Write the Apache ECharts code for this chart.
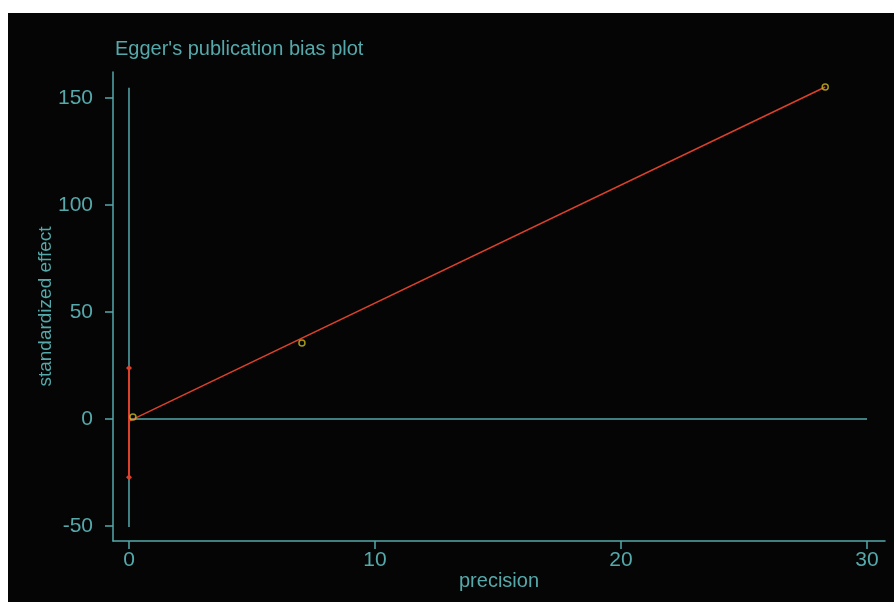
<!DOCTYPE html>
<html>
<head>
<meta charset="utf-8">
<script src="https://cdn.jsdelivr.net/npm/echarts@6/dist/echarts.min.js"></script>
<style>
html,body{margin:0;padding:0;background:#ffffff;}
#chart{width:894px;height:602px;}
</style>
</head>
<body>
<div id="chart"></div>
<script>
// Data
const precision = [0.16, 7.03, 28.3];
const stdEffect = [0.9, 35.5, 155.1];
const regX = [0, 28.3];
const regY = [-1.0, 155.1];
const ciX = [0, 0];
const ciY = [23.8, -27.2];
const refVX = [0, 0];
const refVY = [-50.5, 154.8];
const refHX = [0, 30];
const refHY = [0, 0];
const xTicks = [0, 10, 20, 30];
const yTicks = [-50, 0, 50, 100, 150];

const teal = '#55a9ab';
const red = '#dc412b';
const yellow = '#c8bb1e';
const fontFam = '"Liberation Sans Narrow", "Liberation Sans", Arial, sans-serif';

const pairs = (xs, ys) => xs.map((x, i) => [x, ys[i]]);

const chart = echarts.init(document.getElementById('chart'));
chart.setOption({
  backgroundColor: '#ffffff',
  animation: false,
  graphic: [{
    type: 'rect', z: -10, silent: true,
    shape: { x: 8, y: 13, width: 886, height: 589 },
    style: { fill: '#050505' }
  }],
  title: {
    text: "Egger's publication bias plot",
    left: 110, top: 34,
    textStyle: { color: teal, fontSize: 20, fontWeight: 'normal', fontFamily: fontFam }
  },
  grid: { left: 113, right: 9, top: 72, bottom: 61 },
  xAxis: {
    type: 'value', min: -0.65, max: 30.73,
    name: 'precision', nameLocation: 'middle', nameGap: 30, nameMoveOverlap: false,
    nameTextStyle: { color: teal, fontSize: 20, fontFamily: fontFam },
    splitLine: { show: false },
    axisLine: { show: true, onZero: false, lineStyle: { color: teal, width: 1.5 } },
    axisTick: { show: true, customValues: xTicks, length: 8, lineStyle: { color: teal, width: 1.5 } },
    axisLabel: { customValues: xTicks, color: teal, fontSize: 21, fontFamily: fontFam, margin: 9 }
  },
  yAxis: {
    type: 'value', min: -57.0, max: 162.1,
    name: 'standardized effect', nameLocation: 'middle', nameGap: 58, nameMoveOverlap: false,
    nameTextStyle: { color: teal, fontSize: 19, fontFamily: fontFam },
    splitLine: { show: false },
    axisLine: { show: true, onZero: false, lineStyle: { color: teal, width: 1.5 } },
    axisTick: { show: true, customValues: yTicks, length: 8, lineStyle: { color: teal, width: 1.5 } },
    axisLabel: { customValues: yTicks, color: teal, fontSize: 21, fontFamily: fontFam, margin: 20 }
  },
  series: [
    { type: 'line', data: pairs(refVX, refVY), symbol: 'none', lineStyle: { color: teal, width: 1.5 }, z: 1 },
    { type: 'line', data: pairs(refHX, refHY), symbol: 'none', lineStyle: { color: teal, width: 1.5 }, z: 1 },
    { type: 'line', data: pairs(ciX, ciY), symbol: 'diamond', symbolSize: 6, showSymbol: true,
      itemStyle: { color: red }, lineStyle: { color: red, width: 2 }, z: 2 },
    { type: 'line', data: pairs(regX, regY), symbol: 'none', lineStyle: { color: red, width: 1.5 }, z: 3 },
    { type: 'scatter', data: pairs(precision, stdEffect), symbol: 'circle', symbolSize: 6,
      itemStyle: { color: 'rgba(0,0,0,0)', borderColor: yellow, borderWidth: 1.5 }, z: 4 }
  ]
});
</script>
</body>
</html>
